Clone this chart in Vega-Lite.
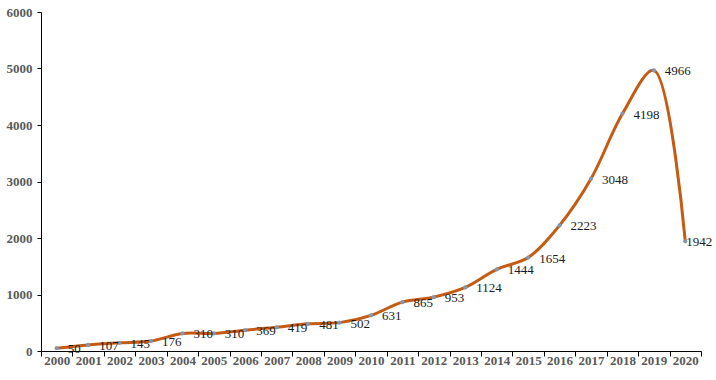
{
  "$schema": "https://vega.github.io/schema/vega-lite/v6.json",
  "width": 660,
  "height": 339,
  "autosize": {"type": "none"},
  "padding": {"left": 41, "top": 12, "right": 15, "bottom": 29},
  "background": "white",
  "config": {"view": {"stroke": null}},
  "data": {
    "values": [
      {"year": "2000", "value": 50},
      {"year": "2001", "value": 107},
      {"year": "2002", "value": 145},
      {"year": "2003", "value": 176},
      {"year": "2004", "value": 310},
      {"year": "2005", "value": 310},
      {"year": "2006", "value": 369},
      {"year": "2007", "value": 419},
      {"year": "2008", "value": 481},
      {"year": "2009", "value": 502},
      {"year": "2010", "value": 631},
      {"year": "2011", "value": 865},
      {"year": "2012", "value": 953},
      {"year": "2013", "value": 1124},
      {"year": "2014", "value": 1444},
      {"year": "2015", "value": 1654},
      {"year": "2016", "value": 2223},
      {"year": "2017", "value": 3048},
      {"year": "2018", "value": 4198},
      {"year": "2019", "value": 4966},
      {"year": "2020", "value": 1942}
    ]
  },
  "encoding": {
    "x": {
      "field": "year",
      "type": "ordinal",
      "bandPosition": 0.5,
      "scale": {"type": "band", "paddingInner": 0, "paddingOuter": 0},
      "axis": {
        "title": null,
        "labelAngle": 0,
        "tickBand": "extent",
        "domainColor": "#000000",
        "tickColor": "#000000",
        "tickSize": 5,
        "labelFont": "Liberation Serif",
        "labelFontWeight": "bold",
        "labelFontSize": 13,
        "labelColor": "#595959",
        "labelPadding": -2
      }
    },
    "y": {
      "field": "value",
      "type": "quantitative",
      "scale": {"domain": [0, 6000], "nice": false},
      "axis": {
        "title": null,
        "values": [0, 1000, 2000, 3000, 4000, 5000, 6000],
        "format": "d",
        "grid": false,
        "domainColor": "#000000",
        "tickColor": "#000000",
        "tickSize": 4,
        "labelFont": "Liberation Serif",
        "labelFontWeight": "bold",
        "labelFontSize": 13,
        "labelColor": "#595959",
        "labelPadding": 5
      }
    }
  },
  "layer": [
    {"mark": {"type": "line", "interpolate": "catmull-rom", "color": "#C55A11", "strokeWidth": 3}},
    {"mark": {"type": "point", "shape": "circle", "filled": true, "size": 18, "color": "#8496B0", "opacity": 1}},
    {
      "transform": [{"filter": "datum.year != '2020'"}],
      "mark": {"type": "text", "align": "left", "baseline": "middle", "dx": 11, "dy": 1, "font": "Liberation Serif", "fontSize": 13, "color": "#1a1a1a"},
      "encoding": {"text": {"field": "value", "type": "quantitative", "format": "d"}}
    },
    {
      "transform": [{"filter": "datum.year == '2020'"}],
      "mark": {"type": "text", "align": "left", "baseline": "middle", "dx": 1, "dy": 1, "font": "Liberation Serif", "fontSize": 13, "color": "#1a1a1a"},
      "encoding": {"text": {"field": "value", "type": "quantitative", "format": "d"}}
    }
  ]
}
